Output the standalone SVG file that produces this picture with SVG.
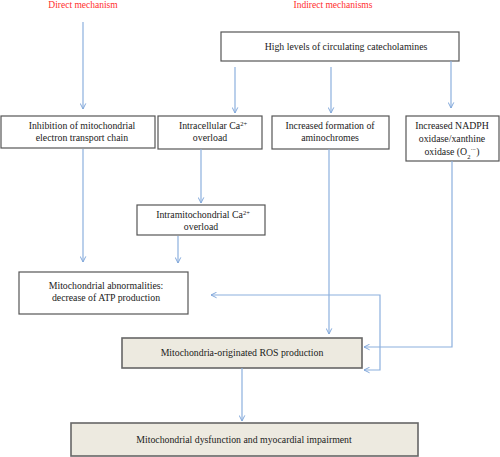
<svg xmlns="http://www.w3.org/2000/svg" width="500" height="457" viewBox="0 0 500 457">
<defs>
<marker id="ah" viewBox="0 0 10 10" refX="9" refY="5" markerWidth="7" markerHeight="7" markerUnits="userSpaceOnUse" orient="auto-start-reverse">
<path d="M1,1 L9,5 L1,9" fill="none" stroke="#7fa6d9" stroke-width="1.4"/>
</marker>
<style>
.box{fill:#fff;stroke:#555;stroke-width:1.2}
.fbox{fill:#edeae0;stroke:#666;stroke-width:1.6}
.t{font-family:"Liberation Serif",serif;font-size:9.8px;fill:#1a1a1a;text-anchor:middle}
.red{font-family:"Liberation Serif",serif;font-size:9.5px;fill:#ff2e2e;text-anchor:middle}
.c{fill:none;stroke:#8cb0de;stroke-width:1.2;marker-end:url(#ah)}
</style>
</defs>
<rect width="500" height="457" fill="#fff"/>
<text class="red" x="83" y="8">Direct mechanism</text>
<text class="red" x="333" y="8">Indirect mechanisms</text>
<g id="catecholamines"><rect class="box" x="221" y="32" width="238" height="29"/><text class="t" x="346" y="50">High levels of circulating catecholamines</text></g>
<g id="inhibition"><rect class="box" x="1" y="116" width="154" height="32"/><text class="t" x="82" y="129">Inhibition of mitochondrial</text><text class="t" x="82" y="141">electron transport chain</text></g>
<g id="intracellular"><rect class="box" x="158" y="116" width="104" height="33"/><text class="t" x="213" y="129">Intracellular Ca<tspan baseline-shift="super" font-size="6.5">2+</tspan></text><text class="t" x="210" y="141">overload</text></g>
<g id="aminochromes"><rect class="box" x="272" y="116" width="117" height="33"/><text class="t" x="330" y="129">Increased formation of</text><text class="t" x="330" y="141">aminochromes</text></g>
<g id="nadph"><rect class="box" x="406" y="116" width="93" height="45"/><text class="t" x="452" y="129">Increased NADPH</text><text class="t" x="452" y="142">oxidase/xanthine</text><text class="t" x="452" y="155">oxidase (O<tspan baseline-shift="sub" font-size="6.5">2</tspan><tspan baseline-shift="super" font-size="6.5">·−</tspan>)</text></g>
<g id="intramitochondrial"><rect class="box" x="137" y="205" width="128" height="30"/><text class="t" x="203" y="218">Intramitochondrial Ca<tspan baseline-shift="super" font-size="6.5">2+</tspan></text><text class="t" x="201" y="230">overload</text></g>
<g id="abnormalities"><rect class="box" x="19" y="272" width="169" height="42"/><text class="t" x="106" y="289">Mitochondrial abnormalities:</text><text class="t" x="106" y="301">decrease of ATP production</text></g>
<g id="ros"><rect class="fbox" x="122" y="338" width="240" height="30"/><text class="t" x="242" y="356">Mitochondria-originated ROS production</text></g>
<g id="dysfunction"><rect class="fbox" x="71" y="423" width="347" height="33"/><text class="t" x="244" y="443">Mitochondrial dysfunction and myocardial impairment</text></g>
<g id="connectors">
<path class="c" d="M83,22 V109"/>
<path class="c" d="M235,67 V113"/>
<path class="c" d="M331,67 V113"/>
<path class="c" d="M451,61 V108"/>
<path class="c" d="M201,149 V203"/>
<path class="c" d="M83,149 V262"/>
<path class="c" d="M178,236 V263"/>
<path class="c" d="M329,149 V334"/>
<path class="c" d="M452,161 V347 H364"/>
<path class="c" d="M211,295 H380 V370 H364" style="marker-start:url(#ah)"/>
<path class="c" d="M242,368 V421"/>
</g>
</svg>
